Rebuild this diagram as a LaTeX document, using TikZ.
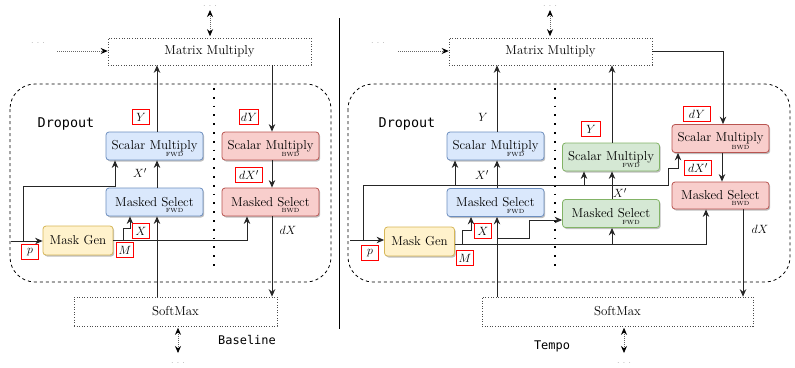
\documentclass[tikz,border=0pt]{standalone}
\usepackage{fontspec}
\setmonofont{DejaVu Sans Mono}
\usetikzlibrary{arrows.meta,shadows,calc}
\definecolor{bfill}{HTML}{DAE8FC}\definecolor{bdraw}{HTML}{6C8EBF}
\definecolor{rfill}{HTML}{F8CECC}\definecolor{rdraw}{HTML}{B85450}
\definecolor{gfill}{HTML}{D5E8D4}\definecolor{gdraw}{HTML}{82B366}
\definecolor{yfill}{HTML}{FFF2CC}\definecolor{ydraw}{HTML}{D6B656}
\definecolor{lbl}{HTML}{FF0000}
\newcommand\mainsz{\fontsize{13}{15}\selectfont}
\newcommand\mydots{.\hspace{3.3pt}.\hspace{3.3pt}.}
\tikzset{
  opbox/.style={rounded corners=3bp, line width=0.8bp, minimum width=97bp, minimum height=28bp,
    inner sep=0pt, font=\mainsz,
    drop shadow={shadow xshift=1.2bp, shadow yshift=-1.5bp, opacity=0.25, fill=black}},
  opblue/.style={opbox, fill=bfill, draw=bdraw},
  opred/.style={opbox, fill=rfill, draw=rdraw},
  opgreen/.style={opbox, fill=gfill, draw=gdraw},
  opyellow/.style={opbox, fill=yfill, draw=ydraw, minimum width=70bp, minimum height=29bp},
  dotbox/.style={draw=black!70, line width=0.6bp, dash pattern=on 0.8bp off 1.8bp,
    minimum width=203bp, minimum height=27bp, inner sep=0pt, font=\mainsz},
  redtag/.style={draw=lbl, fill=white, line width=1.3bp, inner sep=0pt,
    minimum height=15bp, minimum width=17bp, font=\fontsize{12.5}{14}\selectfont},
  mathlbl/.style={font=\fontsize{12.5}{14}\selectfont, inner sep=0pt},
  subtxt/.style={font=\fontsize{6}{7}\selectfont, inner sep=0pt},
  arr/.style={draw=black!85, line width=1bp, -{Stealth[length=7.5bp,width=6.5bp]}},
  darr/.style={draw=black!60, line width=0.8bp, dash pattern=on 0.8bp off 1.2bp,
    {Stealth[length=7bp,width=6bp,color=black]}-{Stealth[length=7bp,width=6bp,color=black]}},
  sarr/.style={draw=black!60, line width=0.8bp, dash pattern=on 0.8bp off 1.2bp,
    -{Stealth[length=7bp,width=6bp,color=black]}},
  sepline/.style={draw=black, line width=1.8bp, dash pattern=on 1.8bp off 7bp},
  dropbox/.style={draw=black, line width=0.8bp, dash pattern=on 3bp off 3bp, rounded corners=25bp},
  dotstxt/.style={font=\fontsize{8.5}{9}\selectfont, text=black!55, inner sep=0pt},
  monobig/.style={font=\ttfamily\fontsize{13.5}{15}\selectfont, inner sep=0pt},
  monosm/.style={font=\ttfamily\fontsize{12}{14}\selectfont, inner sep=0pt},
}
\begin{document}
\begin{tikzpicture}[x=1bp,y=-1bp]
\useasboundingbox (0,0) rectangle (795,367);

% ---------------- Left: Baseline ----------------
\draw[dropbox] (10,84) rectangle (331,282);
\draw[sepline] (214,88) -- (214,270);
\node[monobig] (dropL) at (66,124) {Dropout};
\node[monosm] (base) at (247,340) {Baseline};

\node[dotbox] (mmL) at (209.5,51.5) {Matrix Multiply};
\node[opblue] (smfL) at (154.5,146) {Scalar Multiply};
\node[subtxt] (smfLs) at ([xshift=20bp,yshift=5.5bp]smfL.south) {FWD};
\node[opred] (smbL) at (270.5,146) {Scalar Multiply};
\node[subtxt] (smbLs) at ([xshift=20bp,yshift=5.5bp]smbL.south) {BWD};
\node[opblue] (msfL) at (154.5,202) {Masked Select};
\node[subtxt] (msfLs) at ([xshift=20bp,yshift=5.5bp]msfL.south) {FWD};
\node[opred] (msbL) at (270.5,202) {Masked Select};
\node[subtxt] (msbLs) at ([xshift=20bp,yshift=5.5bp]msbL.south) {BWD};
\node[opyellow] (mgL) at (78,240.5) {Mask Gen};
\node[dotbox, minimum height=29bp] (smxL) at (175.5,311.5) {SoftMax};

\coordinate (cL1) at (157,0);
\coordinate (cL2) at (272,0);
\draw[arr] (cL1 |- smfL.north) -- (cL1 |- mmL.south);
\draw[arr] (cL1 |- msfL.north) -- (cL1 |- smfL.south);
\draw[arr] (cL1 |- smxL.north) -- (cL1 |- msfL.south);
\draw[arr] (cL2 |- mmL.south) -- (cL2 |- smbL.north);
\draw[arr] (cL2 |- smbL.south) -- (cL2 |- msbL.north);
\draw[arr] (cL2 |- msbL.south) -- (cL2 |- smxL.north);

\coordinate (pinL) at (11,241);
\coordinate (brL) at (23,241);
\draw[arr] (pinL) -- (pinL -| mgL.west);
\draw[arr] (brL) -- ++(0,-55) -| ([xshift=-39.5bp]smfL.south);
\draw[arr] (mgL.east) -| ([xshift=-23.5bp]msbL.south);
\draw[arr] ([xshift=10bp]mgL.east) -- ++(0,-12) -| ([xshift=-24.5bp]msfL.south);

\node[dotstxt] (dtL) at (210,6) {\mydots};
\coordinate (aTopL) at (210,10);
\draw[darr, shorten >=1.5bp] (aTopL) -- (aTopL |- mmL.north);
\node[dotstxt] (dlL) at (38,43) {\mydots};
\coordinate (aLL) at (57,51);
\draw[sarr] (aLL) -- (aLL -| mmL.west);
\coordinate (aBotL) at (178,353);
\draw[darr, shorten <=1.5bp] (aBotL |- smxL.south) -- (aBotL);
\node[dotstxt] (dbL) at (178,363.5) {\mydots};

\node[redtag] (tYL) at (141,117) {$Y$};
\node[redtag, minimum width=19bp] (tdYL) at (249,117) {$dY$};
\node[mathlbl] (tXpL) at (140,173) {$X'$};
\node[redtag, minimum width=27bp] (tdXpL) at (249,175) {$dX'$};
\node[redtag] (tXL) at (141,231) {$X$};
\node[redtag] (tML) at (125,250) {$M$};
\node[redtag] (tpL) at (30,252) {$p$};
\node[mathlbl] (tdXL) at (288,230) {$dX$};

% separator
\draw[black, line width=0.9bp] (339,18) -- (339,329);

% ---------------- Right: Tempo ----------------
\draw[dropbox] (348,84) rectangle (790,282);
\draw[sepline] (555,88) -- (555,270);
\node[monobig] (dropR) at (407,124) {Dropout};
\node[monosm] (tempo) at (552,346) {Tempo};

\node[dotbox] (mmR) at (550.5,51.5) {Matrix Multiply};
\node[opblue] (smfR) at (495.5,146) {Scalar Multiply};
\node[subtxt] (smfRs) at ([xshift=20bp,yshift=5.5bp]smfR.south) {FWD};
\node[opblue] (msfR) at (495.5,202.5) {Masked Select};
\node[subtxt] (msfRs) at ([xshift=20bp,yshift=5.5bp]msfR.south) {FWD};
\node[opgreen] (smfG) at (611,157) {Scalar Multiply};
\node[subtxt] (smfGs) at ([xshift=20bp,yshift=5.5bp]smfG.south) {FWD};
\node[opgreen] (msfG) at (611,213.5) {Masked Select};
\node[subtxt] (msfGs) at ([xshift=20bp,yshift=5.5bp]msfG.south) {FWD};
\node[opred] (smbR) at (720.5,138.5) {Scalar Multiply};
\node[subtxt] (smbRs) at ([xshift=20bp,yshift=5.5bp]smbR.south) {BWD};
\node[opred, minimum height=27bp] (msbR) at (720.5,195.5) {Masked Select};
\node[subtxt] (msbRs) at ([xshift=20bp,yshift=5.5bp]msbR.south) {BWD};
\node[opyellow] (mgR) at (419.5,241.5) {Mask Gen};
\node[dotbox, minimum width=271bp, minimum height=29bp] (smxR) at (617.5,311.5) {SoftMax};

\coordinate (cR1) at (497,0);
\coordinate (cR2) at (612,0);
\coordinate (cR4) at (743,0);
\draw[arr] (cR1 |- smfR.north) -- (cR1 |- mmR.south);
\draw[arr] (cR1 |- msfR.north) -- (cR1 |- smfR.south);
\draw[arr] (cR1 |- smxR.north) -- (cR1 |- msfR.south);
\draw[arr] (cR2 |- smfG.north) -- (cR2 |- mmR.south);
\draw[arr] (cR2 |- msfG.north) -- (cR2 |- smfG.south);
\draw[arr] (mmR.east) -| ([xshift=2.5bp]smbR.north);
\draw[arr] ([xshift=1.5bp]smbR.south) -- ([xshift=1.5bp]msbR.north);
\draw[arr] (cR4 |- msbR.south) -- (cR4 |- smxR.north);

\coordinate (pinR) at (350,240);
\coordinate (brR) at (363,240);
\draw[arr] (pinR) -- (pinR -| mgR.west);
\draw[arr] (brR) -- ++(0,-55) -| ([xshift=-40.5bp]smfR.south);
\draw[arr] (brR) -- ++(0,-55) -- ++(305,0) -- ++(0,-17) -| ([xshift=-42.5bp]smbR.south);
\coordinate (jG) at (584,185);
\draw[arr] (jG) -- (jG |- smfG.south);

\draw[arr] ([yshift=-2.5bp]mgR.east) -| ([xshift=-14.5bp]msbR.south);
\draw[arr] ([xshift=8bp,yshift=-2.5bp]mgR.east) -- ++(0,-14) -| ([xshift=-24.5bp]msfR.south);
\coordinate (jM) at (612,244);
\draw[arr] (jM) -- (jM |- msfG.south);
\coordinate (jX) at (497,238);
\draw[arr] (jX) -- ++(32,0) |- ([yshift=-6.5bp]msfG.west);

\node[dotstxt] (dtR) at (550,6) {\mydots};
\coordinate (aTopR) at (550,10);
\draw[darr, shorten >=1.5bp] (aTopR) -- (aTopR |- mmR.north);
\node[dotstxt] (dlR) at (378,43) {\mydots};
\coordinate (aLR) at (398,51);
\draw[sarr] (aLR) -- (aLR -| mmR.west);
\coordinate (aBotR) at (624,353);
\draw[darr, shorten <=1.5bp] (aBotR |- smxR.south) -- (aBotR);
\node[dotstxt] (dbR) at (624,363.5) {\mydots};

\node[mathlbl] (tYR) at (483,117) {$Y$};
\node[redtag, minimum width=27bp] (tdYR) at (697,114) {$dY$};
\node[mathlbl] (tXpR) at (482,175) {$X'$};
\node[redtag] (tXR) at (483,231) {$X$};
\node[redtag] (tMR) at (465,258) {$M$};
\node[redtag] (tpR) at (370,253) {$p$};
\node[redtag, minimum width=19bp] (tYG) at (591,129) {$Y$};
\node[mathlbl] (tXpG) at (620,193) {$X'$};
\node[redtag, minimum width=27bp] (tdXpR) at (698,168) {$dX'$};
\node[mathlbl] (tdXR) at (760,229) {$dX$};
\end{tikzpicture}
\end{document}
